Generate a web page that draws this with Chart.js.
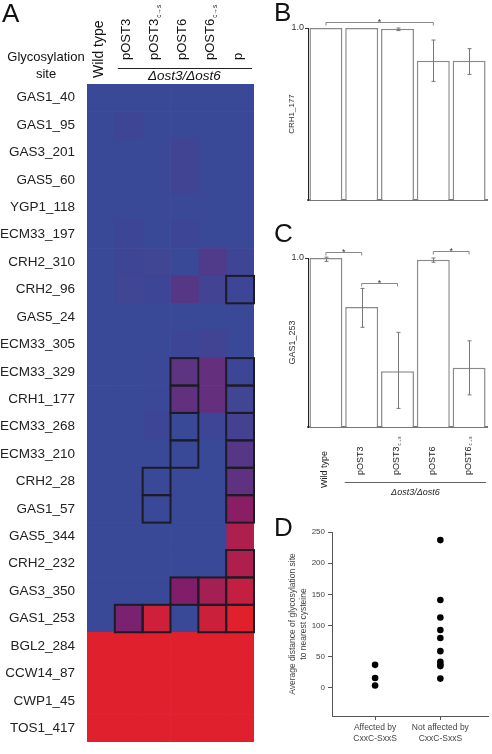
<!DOCTYPE html>
<html>
<head>
<meta charset="utf-8">
<script src="https://cdn.jsdelivr.net/npm/chart.js@4.4.0/dist/chart.umd.min.js"></script>
<style>
body { margin: 0; background: #fff; }
#wrap { position: relative; width: 492px; height: 754px; overflow: hidden; font-family: 'Liberation Sans', Arial, sans-serif; }
canvas { position: absolute; }
.lbl { position: absolute; font-size: 26px; line-height: 1; color: #111; }
</style>
</head>
<body>
<div id="wrap">
  <canvas id="heat" width="262" height="754" style="left:0;top:0"></canvas>
  <canvas id="barB" width="212" height="210" style="left:280px;top:0"></canvas>
  <canvas id="barC" width="212" height="300" style="left:280px;top:210px"></canvas>
  <canvas id="dotD" width="212" height="244" style="left:280px;top:510px"></canvas>
  <div class="lbl" style="left:2px;top:0">A</div>
  <div class="lbl" style="left:274px;top:-1px">B</div>
  <div class="lbl" style="left:274px;top:220px">C</div>
  <div class="lbl" style="left:274px;top:514px">D</div>
</div>
<script>
// ---- panel A: heat map ----
const sites = ['GAS1_40', 'GAS1_95', 'GAS3_201', 'GAS5_60', 'YGP1_118', 'ECM33_197', 'CRH2_310', 'CRH2_96',
  'GAS5_24', 'ECM33_305', 'ECM33_329', 'CRH1_177', 'ECM33_268', 'ECM33_210', 'CRH2_28', 'GAS1_57',
  'GAS5_344', 'CRH2_232', 'GAS3_350', 'GAS1_253', 'BGL2_284', 'CCW14_87', 'CWP1_45', 'TOS1_417'];
const strains = ['Wild type', 'pOST3', 'pOST3', 'pOST6', 'pOST6', 'p'];
const strainSubs = ['', '', 'c→s', '', 'c→s', ''];

// 0 = not glycosylated (blue) .. 1 = glycosylated (red)
const wildType = [0, 0, 0, 0, 0, 0, 0, 0, 0, 0, 0, 0, 0, 0, 0, 0, 0, 0, 0, 0, 1, 1, 1, 1];
const pOST3 = [0, 0.03, 0, 0, 0, 0.02, 0.03, 0.04, 0, 0, 0, 0, 0, 0, 0, 0, 0, 0, 0, 0.45, 1, 1, 1, 1];
const pOST3cs = [0, 0, 0, 0, 0, 0, 0.04, 0.02, 0, 0, 0.01, 0.01, 0.02, 0, 0, 0, 0, 0, 0, 0.9, 1, 1, 1, 1];
const pOST6 = [0, 0, 0.05, 0.05, 0, 0.02, 0, 0.2, 0, 0.02, 0.24, 0.28, 0, 0, 0, 0, 0, 0, 0.5, 0, 1, 1, 1, 1];
const pOST6cs = [0, 0, 0, 0, 0, 0, 0.15, 0.06, 0, 0.05, 0.3, 0.3, 0.02, 0, 0, 0, 0, 0, 0.68, 0.88, 1, 1, 1, 1];
const pOnly = [0, 0, 0, 0, 0, 0, 0.03, 0.02, 0, 0, 0.02, 0.04, 0.08, 0.2, 0.26, 0.55, 0.74, 0.74, 0.84, 1, 1, 1, 1, 1];
const heatColumns = [wildType, pOST3, pOST3cs, pOST6, pOST6cs, pOnly];

// [row, column] of the outlined cells
const boxedCells = [[7, 5], [10, 3], [10, 5], [11, 3], [11, 5], [12, 3], [12, 5], [13, 3], [13, 5],
  [14, 2], [14, 5], [15, 2], [15, 5], [17, 5], [18, 3], [18, 4], [18, 5], [19, 1], [19, 2], [19, 4], [19, 5]];

// ---- panel B / C: bars ----
const barStrains = ['Wild type', 'pOST3', 'pOST3', 'pOST6', 'pOST6'];
const barSubs = ['', '', 'c→s', '', 'c→s'];
const crh1Values = [1.0, 1.0, 0.995, 0.81, 0.81];
const crh1Low = [1.0, 1.0, 0.985, 0.69, 0.73];
const crh1High = [1.0, 1.0, 1.0, 0.93, 0.88];
const crh1Stars = [[0, 3, 1.035]];
const gas1Values = [1.0, 0.71, 0.33, 0.99, 0.35];
const gas1Low = [0.98, 0.59, 0.11, 0.975, 0.19];
const gas1High = [1.005, 0.82, 0.56, 1.0, 0.51];
const gas1Stars = [[0, 1, 1.036], [1, 2, 0.85], [3, 4, 1.04]];
const barTicks = [1.0];

// ---- panel D: distances ----
const groupLabels = [['Affected by', 'CxxC-SxxS'], ['Not affected by', 'CxxC-SxxS']];
const affected = [37, 16, 4];
const notAffected = [237, 141, 113, 93, 80, 59, 42, 38, 35, 15];
const distTicks = [0, 50, 100, 150, 200, 250];

const family = "'Liberation Sans', Arial, sans-serif";
Chart.defaults.font.family = family;

const blueEnd = [58, 72, 152], purpleMid = [128, 30, 106], redEnd = [225, 32, 46];
function heatColor(v) {
    const a = v < 0.5 ? blueEnd : purpleMid;
    const b = v < 0.5 ? purpleMid : redEnd;
    const t = v < 0.5 ? v / 0.5 : (v - 0.5) / 0.5;
    const c = a.map((ch, i) => Math.round(ch + (b[i] - ch) * t));
    return 'rgb(' + c.join(',') + ')';
}

function drawRotated(ctx, text, sub, x, y, size) {
    ctx.save();
    ctx.translate(x, y);
    ctx.rotate(-Math.PI / 2);
    ctx.font = size + 'px ' + family;
    ctx.textAlign = 'left';
    ctx.textBaseline = 'middle';
    ctx.fillText(text, 0, 0);
    if (sub) {
        const w = ctx.measureText(text).width;
        ctx.font = (size * 0.5) + 'px ' + family;
        ctx.fillText(sub, w + 1, size * 0.35);
    }
    ctx.restore();
}

const heatDecor = {
    id: 'heatDecor',
    afterDraw(chart) {
        const { ctx, scales: { x, y } } = chart;
        const rowH = (y.bottom - y.top) / sites.length;
        ctx.save();
        ctx.strokeStyle = '#1c1c26';
        ctx.lineWidth = 2;
        boxedCells.forEach(([r, c]) => {
            const x0 = x.getPixelForValue(c), x1 = x.getPixelForValue(c + 1);
            const yc = y.getPixelForValue(r);
            ctx.strokeRect(x0, yc - rowH / 2, x1 - x0, rowH);
        });

        ctx.fillStyle = '#111';
        strains.forEach((name, c) => {
            const cx = x.getPixelForValue(c + 0.5) - 2;
            drawRotated(ctx, name, strainSubs[c], cx, c === 0 ? 78 : 60, c === 0 ? 14 : 13);
        });

        // group line and label
        const gx0 = x.getPixelForValue(1) + 3, gx1 = x.getPixelForValue(6) - 2;
        ctx.strokeStyle = '#222';
        ctx.lineWidth = 1;
        ctx.beginPath();
        ctx.moveTo(gx0, 68.5);
        ctx.lineTo(gx1, 68.5);
        ctx.stroke();
        ctx.font = 'italic 13.5px ' + family;
        ctx.textAlign = 'center';
        ctx.textBaseline = 'alphabetic';
        ctx.fillText('Δost3/Δost6', (x.getPixelForValue(1) + x.getPixelForValue(6)) / 2, 80);

        ctx.font = '13px ' + family;
        ctx.fillText('Glycosylation', 46, 61);
        ctx.fillText('site', 46, 78);
        ctx.restore();
    }
};

new Chart(document.getElementById('heat'), {
    type: 'bar',
    data: {
        labels: sites,
        datasets: heatColumns.map((col, c) => ({
            label: strains[c] + strainSubs[c],
            data: sites.map(() => 1),
            backgroundColor: col.map(heatColor),
            borderWidth: 0
        }))
    },
    options: {
        indexAxis: 'y',
        responsive: false,
        animation: false,
        layout: { padding: { top: 84, bottom: 2, right: 8 } },
        plugins: { legend: { display: false }, tooltip: { enabled: false } },
        datasets: { bar: { categoryPercentage: 1, barPercentage: 1 } },
        scales: {
            x: { stacked: true, display: false, min: 0, max: 6 },
            y: {
                stacked: true,
                grid: { display: false },
                border: { display: false },
                ticks: { autoSkip: false, font: { size: 13.5 }, color: '#222', padding: 4 },
                afterFit(s) { s.width = 87; }
            }
        }
    },
    plugins: [heatDecor]
});

const barDecor = {
    id: 'barDecor',
    afterDatasetsDraw(chart, args, opts) {
        const { ctx, scales: { x, y } } = chart;
        ctx.save();
        ctx.strokeStyle = '#777';
        ctx.lineWidth = 1;
        opts.lows.forEach((lo, i) => {
            const hi = opts.highs[i];
            if (hi - lo < 0.001) return;
            const cx = Math.round(x.getPixelForValue(i)) + 0.5;
            const y0 = y.getPixelForValue(lo), y1 = y.getPixelForValue(hi);
            ctx.beginPath();
            ctx.moveTo(cx, y0); ctx.lineTo(cx, y1);
            ctx.moveTo(cx - 2, y0); ctx.lineTo(cx + 2, y0);
            ctx.moveTo(cx - 2, y1); ctx.lineTo(cx + 2, y1);
            ctx.stroke();
        });
        // significance brackets
        ctx.strokeStyle = '#888';
        ctx.fillStyle = '#333';
        ctx.font = '9px ' + family;
        ctx.textAlign = 'center';
        ctx.textBaseline = 'alphabetic';
        opts.stars.forEach(([a, b, level]) => {
            const x0 = x.getPixelForValue(a), x1 = x.getPixelForValue(b);
            const yy = Math.round(y.getPixelForValue(level)) + 0.5;
            ctx.beginPath();
            ctx.moveTo(x0, yy + 3); ctx.lineTo(x0, yy); ctx.lineTo(x1, yy); ctx.lineTo(x1, yy + 3);
            ctx.stroke();
            ctx.fillText('*', (x0 + x1) / 2, yy + 2);
        });
        ctx.restore();
    },
    afterDraw(chart, args, opts) {
        if (!opts.xLabels) return;
        const { ctx, scales: { x } } = chart;
        ctx.save();
        ctx.fillStyle = '#222';
        barStrains.forEach((name, i) => {
            const cx = x.getPixelForValue(i) - 1;
            drawRotated(ctx, name, barSubs[i], cx, i === 0 ? 278 : 265, 9);
        });
        const x0 = x.getPixelForValue(1) - 17, x1 = x.getPixelForValue(4) + 17;
        ctx.strokeStyle = '#666';
        ctx.lineWidth = 1;
        ctx.beginPath();
        ctx.moveTo(x0, 272.5);
        ctx.lineTo(x1, 272.5);
        ctx.stroke();
        ctx.font = 'italic 9px ' + family;
        ctx.textAlign = 'center';
        ctx.fillText('Δost3/Δost6', (x.getPixelForValue(1) + x.getPixelForValue(4)) / 2, 285);
        ctx.restore();
    }
};

function barPanel(id, values, lows, highs, stars, title, titleSize, padTop, padBottom, xLabels) {
    return new Chart(document.getElementById(id), {
        type: 'bar',
        data: {
            labels: barStrains,
            datasets: [{
                data: values,
                backgroundColor: '#fff',
                borderColor: '#8a8a8a',
                borderWidth: 1.5,
                categoryPercentage: 0.92,
                barPercentage: 1
            }]
        },
        options: {
            responsive: false,
            animation: false,
            layout: { padding: { top: padTop, bottom: padBottom, right: 5 } },
            plugins: {
                legend: { display: false },
                tooltip: { enabled: false },
                barDecor: { lows: lows, highs: highs, stars: stars, xLabels: xLabels }
            },
            scales: {
                x: {
                    ticks: { display: false },
                    grid: { display: false },
                    border: { display: true, color: '#777', width: 2 },
                    afterFit(s) { s.height = 0; }
                },
                y: {
                    min: 0, max: 1,
                    afterBuildTicks(s) { s.ticks = barTicks.map(v => ({ value: v })); },
                    ticks: { font: { size: 9 }, color: '#333', padding: 1, callback: v => v.toFixed(1) },
                    grid: { drawOnChartArea: false, tickLength: 3, color: '#333' },
                    border: { color: '#222', width: 1 },
                    title: { display: true, text: title, font: { size: titleSize }, color: '#333', padding: { top: 7, bottom: 0 } },
                    afterFit(s) { s.width = 28; }
                }
            }
        },
        plugins: [barDecor]
    });
}

barPanel('barB', crh1Values, crh1Low, crh1High, crh1Stars, 'CRH1_177', 8, 28, 10, false);
barPanel('barC', gas1Values, gas1Low, gas1High, gas1Stars, 'GAS1_253', 9, 48, 83, true);

// ---- panel D ----
new Chart(document.getElementById('dotD'), {
    type: 'scatter',
    data: {
        datasets: [
            { data: affected.map(v => ({ x: 0, y: v })) },
            { data: notAffected.map(v => ({ x: 1, y: v })) }
        ]
    },
    options: {
        responsive: false,
        animation: false,
        layout: { padding: { top: 22, right: 0, bottom: 0, left: 0 } },
        elements: { point: { radius: 3.3, backgroundColor: '#000', borderWidth: 0 } },
        plugins: { legend: { display: false }, tooltip: { enabled: false } },
        scales: {
            x: {
                type: 'linear', min: -0.66, max: 1.73,
                afterBuildTicks(s) { s.ticks = groupLabels.map((g, i) => ({ value: i })); },
                ticks: { font: { size: 8.5, lineHeight: 1.3 }, color: '#444', padding: 2, maxRotation: 0,
                    callback: (v, i) => groupLabels[i] },
                grid: { drawOnChartArea: false, tickLength: 4, color: '#555' },
                border: { color: '#555', width: 1 },
                afterFit(s) { s.height = 38; }
            },
            y: {
                min: -45, max: 250,
                afterBuildTicks(s) { s.ticks = distTicks.map(v => ({ value: v })); },
                ticks: { font: { size: 8 }, color: '#444', padding: 3 },
                grid: { drawOnChartArea: false, tickLength: 4, color: '#555' },
                border: { color: '#555', width: 1 },
                title: {
                    display: true,
                    text: ['Average distance of glycosylation site', 'to nearest cysteine'],
                    font: { size: 8.5, lineHeight: 1.3 }, color: '#444', padding: { top: 7, bottom: 0 }
                },
                afterFit(s) { s.width = 52; }
            }
        }
    }
});
</script>
</body>
</html>
